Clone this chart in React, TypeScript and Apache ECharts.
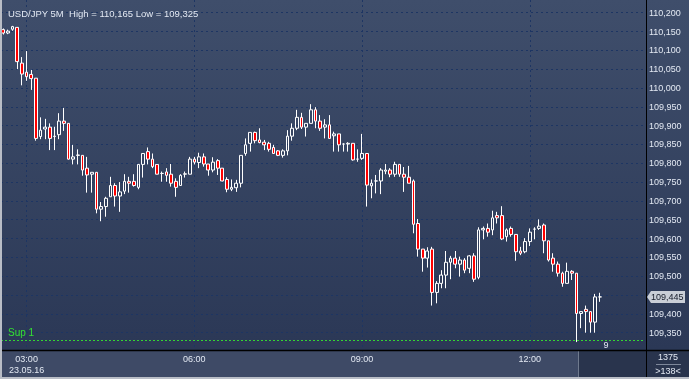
import React, { useEffect, useRef } from 'react';
import * as echarts from 'echarts';

// ---- data (USD/JPY, 5 minute candles, 23.05.16 from 02:35) ----
const titleText = 'USD/JPY 5M  High = 110,165 Low = 109,325';
const dateLabel = '23.05.16';
const firstHour = 2;
const firstMinute = 35;
const stepMinutes = 5;
const slotCount = 138;
const supportLevel = 109.325;
const supportName = 'Sup 1';
const cornerTop = '1375';
const cornerBottom = '>138<';
const counterLabel = '9';

const opens = [
  110.155, 110.146, 110.156, 110.161, 110.066, 110.042, 110.036, 110.026, 109.871, 109.891,
  109.896, 109.871, 109.876, 109.912, 109.906, 109.811, 109.821, 109.821, 109.787, 109.771,
  109.776, 109.678, 109.685, 109.711, 109.741, 109.713, 109.726, 109.752, 109.752, 109.736,
  109.797, 109.831, 109.811, 109.797, 109.773, 109.777, 109.771, 109.752, 109.741, 109.771,
  109.771, 109.811, 109.802, 109.817, 109.798, 109.782, 109.807, 109.787, 109.757, 109.731,
  109.735, 109.747, 109.826, 109.853, 109.882, 109.862, 109.856, 109.853, 109.842, 109.833,
  109.821, 109.833, 109.872, 109.893, 109.922, 109.896, 109.906, 109.942, 109.912, 109.896,
  109.902, 109.873, 109.878, 109.851, 109.851, 109.853, 109.811, 109.813, 109.826, 109.740,
  109.753, 109.753, 109.779, 109.782, 109.771, 109.797, 109.771, 109.763, 109.753, 109.640,
  109.572, 109.548, 109.572, 109.457, 109.481, 109.503, 109.537, 109.548, 109.532, 109.543,
  109.521, 109.554, 109.497, 109.623, 109.627, 109.623, 109.661, 109.661, 109.605, 109.627,
  109.611, 109.567, 109.565, 109.592, 109.625, 109.627, 109.636, 109.594, 109.548, 109.532,
  109.508, 109.481, 109.513, 109.508, 109.401, 109.412, 109.406, 109.378, 109.445,
];
const closes = [
  110.146, 110.151, 110.163, 110.070, 110.037, 110.030, 110.025, 109.866, 109.888, 109.896,
  109.866, 109.872, 109.912, 109.906, 109.811, 109.817, 109.822, 109.782, 109.769, 109.776,
  109.678, 109.685, 109.707, 109.741, 109.713, 109.724, 109.752, 109.747, 109.741, 109.797,
  109.826, 109.811, 109.791, 109.771, 109.773, 109.768, 109.747, 109.736, 109.768, 109.772,
  109.811, 109.803, 109.817, 109.798, 109.782, 109.803, 109.787, 109.753, 109.731, 109.736,
  109.747, 109.821, 109.849, 109.882, 109.860, 109.855, 109.849, 109.837, 109.826, 109.821,
  109.833, 109.872, 109.893, 109.922, 109.896, 109.906, 109.942, 109.912, 109.893, 109.902,
  109.866, 109.878, 109.849, 109.851, 109.853, 109.809, 109.811, 109.826, 109.742, 109.747,
  109.753, 109.782, 109.782, 109.771, 109.797, 109.771, 109.763, 109.747, 109.638, 109.572,
  109.548, 109.567, 109.457, 109.481, 109.503, 109.537, 109.548, 109.532, 109.543, 109.516,
  109.554, 109.492, 109.623, 109.627, 109.617, 109.655, 109.655, 109.599, 109.623, 109.611,
  109.565, 109.561, 109.592, 109.617, 109.625, 109.633, 109.594, 109.543, 109.532, 109.508,
  109.481, 109.513, 109.508, 109.401, 109.406, 109.406, 109.378, 109.445, 109.445,
];
const highs = [
  110.158, 110.155, 110.165, 110.162, 110.082, 110.098, 110.048, 110.026, 109.922, 109.918,
  109.906, 109.897, 109.933, 109.947, 109.906, 109.849, 109.837, 109.821, 109.817, 109.776,
  109.776, 109.697, 109.711, 109.764, 109.747, 109.750, 109.771, 109.764, 109.771, 109.797,
  109.826, 109.842, 109.826, 109.797, 109.778, 109.787, 109.798, 109.760, 109.771, 109.778,
  109.817, 109.817, 109.828, 109.826, 109.798, 109.816, 109.811, 109.787, 109.763, 109.757,
  109.756, 109.821, 109.866, 109.882, 109.884, 109.893, 109.862, 109.857, 109.849, 109.835,
  109.837, 109.888, 109.906, 109.942, 109.934, 109.906, 109.957, 109.949, 109.928, 109.917,
  109.928, 109.884, 109.878, 109.853, 109.856, 109.853, 109.837, 109.878, 109.826, 109.757,
  109.769, 109.787, 109.798, 109.787, 109.804, 109.797, 109.790, 109.793, 109.757, 109.652,
  109.572, 109.577, 109.578, 109.487, 109.516, 109.567, 109.554, 109.567, 109.552, 109.548,
  109.556, 109.561, 109.630, 109.632, 109.640, 109.674, 109.671, 109.686, 109.627, 109.632,
  109.611, 109.578, 109.601, 109.627, 109.630, 109.651, 109.640, 109.594, 109.561, 109.539,
  109.512, 109.536, 109.516, 109.508, 109.406, 109.422, 109.406, 109.453, 109.456,
];
const lows = [
  110.142, 110.143, 110.152, 110.050, 110.007, 110.019, 109.995, 109.860, 109.864, 109.864,
  109.835, 109.835, 109.864, 109.886, 109.810, 109.797, 109.797, 109.767, 109.722, 109.722,
  109.667, 109.646, 109.658, 109.711, 109.685, 109.671, 109.718, 109.722, 109.738, 109.731,
  109.762, 109.797, 109.787, 109.771, 109.751, 109.751, 109.738, 109.711, 109.740, 109.762,
  109.771, 109.797, 109.787, 109.791, 109.767, 109.776, 109.769, 109.752, 109.723, 109.726,
  109.724, 109.736, 109.820, 109.831, 109.853, 109.853, 109.835, 109.831, 109.826, 109.819,
  109.815, 109.821, 109.860, 109.888, 109.891, 109.871, 109.906, 109.893, 109.886, 109.866,
  109.866, 109.831, 109.831, 109.831, 109.831, 109.807, 109.804, 109.809, 109.685, 109.707,
  109.720, 109.718, 109.771, 109.763, 109.764, 109.764, 109.724, 109.747, 109.614, 109.552,
  109.512, 109.523, 109.422, 109.428, 109.468, 109.468, 109.492, 109.521, 109.499, 109.508,
  109.508, 109.485, 109.492, 109.598, 109.605, 109.609, 109.640, 109.596, 109.592, 109.605,
  109.541, 109.556, 109.561, 109.580, 109.598, 109.623, 109.561, 109.539, 109.512, 109.499,
  109.472, 109.481, 109.490, 109.325, 109.362, 109.350, 109.350, 109.350, 109.432,
];

const pad2 = (n: number) => (n < 10 ? '0' + n : '' + n);
const times: string[] = [];
for (let i = 0; i < slotCount; i++) {
  const t = firstHour * 60 + firstMinute + i * stepMinutes;
  times.push(pad2(Math.floor(t / 60) % 24) + ':' + pad2(t % 60));
}
const isMajor = (_i: number, v: string) => {
  const [h, m] = v.split(':').map(Number);
  return m === 0 && h % 3 === 0;
};
const firstMajor = times.findIndex((v, i) => isMajor(i, v));

const candles = opens.map((o, i) => [o, closes[i], lows[i], highs[i]]);
const lastPrice = closes[closes.length - 1];
const fmtPrice = (v: number) => v.toFixed(3).replace('.', ',');

const FONT = 'Liberation Sans, Arial, sans-serif';
const gridColor = '#1d3563';
const textColor = '#e3e9f3';

export default function App() {
  const ref = useRef<HTMLDivElement>(null);
  useEffect(() => {
    const chart = echarts.init(ref.current!, null, { renderer: 'svg' });
    chart.setOption({
      animation: false,
      backgroundColor: 'transparent',
      title: {
        text: titleText,
        left: 3,
        top: 3,
        textStyle: { color: textColor, fontSize: 9.5, fontWeight: 'normal', fontFamily: FONT },
      },
      grid: { left: 1, right: 45, top: 0, bottom: 27.5 },
      xAxis: {
        type: 'category',
        data: times,
        boundaryGap: true,
        axisLine: { show: false },
        axisTick: { show: false },
        axisLabel: {
          interval: isMajor,
          formatter: (v: string, i: number) => (i === firstMajor ? v + '\n' + dateLabel : v),
          color: textColor,
          fontSize: 9,
          fontFamily: FONT,
          margin: 2,
          lineHeight: 11,
        },
        splitLine: {
          show: true,
          interval: isMajor,
          alignWithLabel: true,
          lineStyle: { color: gridColor, type: [2, 3], width: 1 },
        },
      },
      yAxis: {
        type: 'value',
        position: 'right',
        min: 109.3,
        max: 110.2337,
        interval: 0.05,
        axisLine: { show: false },
        axisTick: { show: false },
        axisLabel: {
          showMinLabel: false,
          showMaxLabel: false,
          margin: 5,
          color: textColor,
          fontSize: 9,
          fontFamily: FONT,
          // the tick label under the current-price tag is hidden by it
          formatter: (v: number) => (Math.abs(v - lastPrice) < 0.02 ? '' : fmtPrice(v)),
        },
        splitLine: {
          show: true,
          showMinLine: false,
          showMaxLine: false,
          lineStyle: { color: gridColor, type: [2, 3], width: 1 },
        },
      },
      series: [
        {
          type: 'candlestick',
          data: candles,
          barWidth: 3.2,
          itemStyle: {
            color: 'rgba(0,0,0,0)',
            color0: '#ff0000',
            borderColor: '#ffffff',
            borderColor0: '#ffffff',
            borderWidth: 1,
          },
          markLine: {
            silent: true,
            symbol: ['none', 'none'],
            lineStyle: { color: '#33d433', type: [2, 2], width: 1 },
            label: {
              show: true,
              position: 'insideStartTop',
              formatter: supportName,
              color: '#33e033',
              fontSize: 10,
              fontFamily: FONT,
              distance: [7, 3],
            },
            data: [{ yAxis: supportLevel }],
          },
        },
      ],
    });

    const py = chart.convertToPixel({ yAxisIndex: 0 }, lastPrice) as number;
    const W = 689;
    const H = 379;
    chart.setOption({
      graphic: {
        elements: [
          {
            type: 'rect', z: -10, silent: true,
            shape: { x: 0, y: 0, width: W, height: 350 },
            style: {
              fill: new echarts.graphic.LinearGradient(0, 0, 0, 1, [
                { offset: 0, color: '#3f4e6b' },
                { offset: 1, color: '#2b3856' },
              ]),
            },
          },
          { type: 'rect', z: -9, silent: true, shape: { x: 0, y: 350, width: 579, height: 27 }, style: { fill: '#3e4a66' } },
          { type: 'rect', z: -9, silent: true, shape: { x: 579, y: 350, width: W - 579, height: 27 }, style: { fill: '#29344d' } },
          { type: 'line', z: 20, silent: true, shape: { x1: 578.5, y1: 351, x2: 578.5, y2: 377 }, style: { stroke: '#6f7a8e', lineWidth: 1 } },
          { type: 'line', z: 20, silent: true, shape: { x1: 0, y1: 350.5, x2: W, y2: 350.5 }, style: { stroke: '#000000', lineWidth: 1.5 } },
          { type: 'line', z: 20, silent: true, shape: { x1: 646.5, y1: 0, x2: 646.5, y2: 377 }, style: { stroke: '#000000', lineWidth: 1 } },
          { type: 'rect', z: 20, silent: true, shape: { x: 0, y: 0, width: 2, height: H }, style: { fill: '#b9bdc6' } },
          { type: 'rect', z: 20, silent: true, shape: { x: 0, y: 377, width: W, height: 2 }, style: { fill: '#b9bdc6' } },
          {
            type: 'text', z: 20, silent: true, x: 668, y: 357,
            style: { text: cornerTop, fill: textColor, fontSize: 9, fontFamily: FONT, align: 'center', verticalAlign: 'middle' },
          },
          { type: 'line', z: 20, silent: true, shape: { x1: 656, y1: 364.5, x2: 681, y2: 364.5 }, style: { stroke: '#7d879a', lineWidth: 1 } },
          {
            type: 'text', z: 20, silent: true, x: 668, y: 371,
            style: { text: cornerBottom, fill: textColor, fontSize: 9, fontFamily: FONT, align: 'center', verticalAlign: 'middle' },
          },
          {
            type: 'text', z: 20, silent: true, x: 606, y: 345,
            style: { text: counterLabel, fill: textColor, fontSize: 9, fontFamily: FONT, align: 'center', verticalAlign: 'middle' },
          },
          {
            type: 'polygon', z: 20, silent: true,
            shape: { points: [[647, py], [651, py - 6], [685, py - 6], [685, py + 6], [651, py + 6]] },
            style: { fill: '#c9ced7' },
          },
          {
            type: 'text', z: 21, silent: true, x: 651, y: py + 0.5,
            style: { text: fmtPrice(lastPrice), fill: '#141a28', fontSize: 9, fontFamily: FONT, align: 'left', verticalAlign: 'middle' },
          },
        ],
      },
    });
    return () => chart.dispose();
  }, []);
  return <div ref={ref} style={{ position: 'fixed', left: 0, top: 0, width: 689, height: 379 }} />;
}
